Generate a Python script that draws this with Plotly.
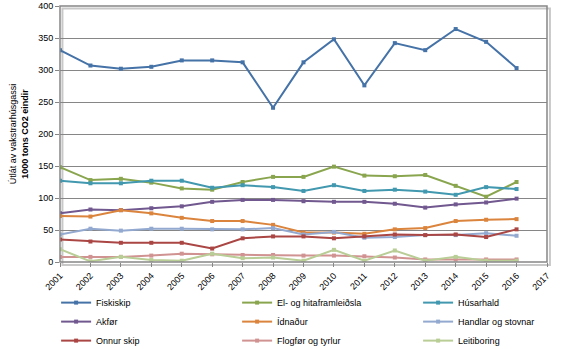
import plotly.graph_objects as go

years = list(range(2001, 2017))
series_names = ["Fiskiskip", "El- og hitaframleiðsla", "Húsarhald",
                "Akfør", "Ídnaður", "Handlar og stovnar",
                "Onnur skip", "Flogfør og tyrlur", "Leitiboring"]
fiskiskip = [331, 307, 302, 305, 315, 315, 312, 241, 312, 348, 276, 342, 331, 364, 344, 303]
el_hita = [148, 128, 130, 124, 115, 113, 125, 133, 133, 149, 135, 134, 136, 119, 102, 125]
husarhald = [127, 123, 123, 127, 127, 116, 120, 117, 111, 120, 111, 113, 110, 105, 117, 114]
akfor = [76, 82, 81, 84, 87, 94, 97, 97, 95, 94, 94, 91, 85, 90, 93, 99]
idnadur = [72, 71, 81, 76, 69, 64, 64, 58, 46, 46, 44, 51, 53, 64, 66, 67]
handlar = [43, 52, 49, 52, 52, 51, 51, 53, 43, 47, 38, 39, 42, 42, 45, 41]
onnur_skip = [35, 32, 30, 30, 30, 21, 37, 40, 40, 37, 40, 43, 42, 43, 39, 51]
flogfor = [8, 8, 8, 10, 13, 12, 11, 11, 10, 10, 9, 7, 4, 4, 4, 4]
leitiboring = [20, 1, 8, 3, 2, 13, 6, 7, 2, 19, 2, 18, 2, 8, 2, 2]
colors = ["#4572A7", "#89A54E", "#4198AF", "#71588F", "#DB843D",
          "#93A9CF", "#AA4643", "#D19392", "#B9CD96"]
all_values = [fiskiskip, el_hita, husarhald, akfor, idnadur, handlar,
              onnur_skip, flogfor, leitiboring]
xticks = list(range(2001, 2018))

fig = go.Figure()
for name, vals, col in zip(series_names, all_values, colors):
    fig.add_trace(go.Scatter(
        x=years, y=vals, name=name, mode="lines+markers",
        line=dict(color=col, width=2),
        marker=dict(symbol="square", size=4, color=col),
    ))

font = "Liberation Sans"
fig.update_layout(
    width=564, height=349,
    margin=dict(l=60, r=17, t=6, b=87, autoexpand=False),
    plot_bgcolor="white", paper_bgcolor="white",
    font=dict(family=font, size=9, color="#000000"),
    showlegend=True,
    legend=dict(orientation="h", x=-0.008, xanchor="left", y=-0.102, yanchor="top",
                entrywidth=136, entrywidthmode="pixels",
                font=dict(size=9), itemwidth=30, tracegroupgap=0,
                bgcolor="rgba(0,0,0,0)"),
    xaxis=dict(range=[2001, 2017], tickmode="array", tickvals=xticks,
               ticktext=[str(t) for t in xticks], tickangle=-45,
               showgrid=False, zeroline=False, showline=False,
               ticks="outside", ticklen=4, tickcolor="#868686"),
    yaxis=dict(range=[0, 400], dtick=50, showgrid=True, gridcolor="#868686",
               gridwidth=1, zeroline=False, showline=False,
               ticks="outside", ticklen=4, tickcolor="#868686",
               title=dict(text="Útlát av vakstrarhúsgassi<br><b>1000 tons CO2 eindir</b>",
                          font=dict(size=9), standoff=8)),
    shapes=[
        dict(type="rect", xref="paper", yref="paper", x0=0.005, y0=-0.012, x1=1.006, y1=0.99,
             line=dict(color="#C8C8C8", width=2), layer="below"),
        dict(type="rect", xref="paper", yref="paper", x0=0, y0=0, x1=1, y1=1,
             line=dict(color="#868686", width=1.5)),
    ],
)

fig.write_html("out.html")
